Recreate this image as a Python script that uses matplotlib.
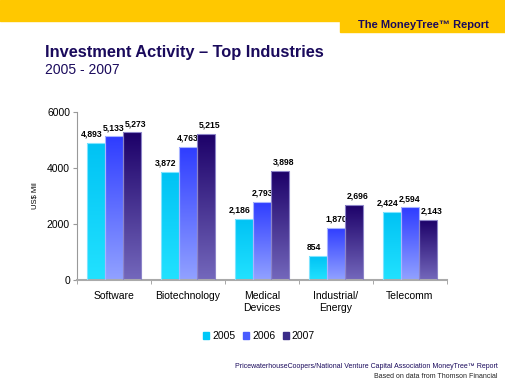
import numpy as np
import matplotlib.pyplot as plt
from matplotlib.colors import LinearSegmentedColormap
from matplotlib.patches import Rectangle

plt.rcParams["font.family"] = ["Liberation Sans", "DejaVu Sans"]

# Data
industries = ["Software", "Biotechnology", "Medical\nDevices", "Industrial/\nEnergy", "Telecomm"]
years = ["2005", "2006", "2007"]
inv_2005 = [4893, 3872, 2186, 854, 2424]
inv_2006 = [5133, 4763, 2793, 1870, 2594]
inv_2007 = [5273, 5215, 3898, 2696, 2143]
yticks = [0, 2000, 4000, 6000]

navy = "#1a0a5c"
yellow = "#ffc800"
# (top colour, bottom colour) for each year's gradient
grads = [("#00c2f4", "#22e2ff"), ("#2e3cff", "#92a2ff"), ("#1c0068", "#7468bc")]
edges = ["#7fe4ff", "#a8b4ff", "#8c84c8"]
legend_cols = ["#00c8f8", "#4a5cff", "#3a2c88"]
label_dx = [-3, 0, 2.5]  # points, spreads the value labels a bit like the original

fig = plt.figure(figsize=(5.06, 3.80), dpi=100)
fig.patch.set_facecolor("white")

# yellow banner at the top
fig.patches.append(Rectangle((0, 1 - 21 / 380), 1, 21 / 380, transform=fig.transFigure,
                             color=yellow, zorder=0))
fig.patches.append(Rectangle((340 / 506, 1 - 32 / 380), 166 / 506, 12 / 380,
                             transform=fig.transFigure, color=yellow, zorder=0))
fig.text(489 / 506, 1 - 25 / 380, "The MoneyTree™ Report", ha="right", va="center",
         fontsize=8, fontweight="bold", color=navy)

fig.text(45 / 506, 1 - 52 / 380, "Investment Activity – Top Industries", ha="left",
         va="center", fontsize=11.8, fontweight="bold", color=navy)
fig.text(45 / 506, 1 - 70 / 380, "2005 - 2007", ha="left", va="center",
         fontsize=10, color=navy)

ax = fig.add_axes([77 / 506, 1 - 280 / 380, 370 / 506, 168 / 380])

series = [inv_2005, inv_2006, inv_2007]
x = np.arange(len(industries))
w = 0.243
for i, vals in enumerate(series):
    cmap = LinearSegmentedColormap.from_list("g%d" % i, [grads[i][1], grads[i][0]])
    pos = x + (i - 1) * w
    bars = ax.bar(pos, vals, w, facecolor="none", edgecolor=edges[i], linewidth=0.8,
                  label=years[i], zorder=3)
    for b, v in zip(bars, vals):
        grad = np.linspace(0, 1, 256).reshape(-1, 1)
        im = ax.imshow(grad, cmap=cmap, origin="lower", aspect="auto",
                       extent=(b.get_x(), b.get_x() + w, 0, v), zorder=2)
        im.set_clip_path(b)
        ax.annotate(f"{v:,}", (b.get_x() + w / 2, v), xytext=(label_dx[i], 3),
                    textcoords="offset points", ha="center", va="bottom",
                    fontsize=6.2, fontweight="bold", color="black")

ax.set_xlim(-0.5, len(industries) - 0.5)
ax.set_ylim(0, 6000)
ax.set_yticks(yticks)
ax.set_yticklabels([str(t) for t in yticks], fontsize=7.5)
ax.set_xticks(x)
ax.set_xticklabels(industries, fontsize=7.5)
ax.set_xticks(np.arange(-0.5, len(industries)), minor=True)
ax.tick_params(axis="x", which="major", length=0, pad=8)
ax.tick_params(axis="x", which="minor", length=3, color="#999999")
ax.tick_params(axis="y", length=3, color="#999999", pad=2)
ax.set_ylabel("US$ Mil", fontsize=5.5, labelpad=6)
for s in ["top", "right"]:
    ax.spines[s].set_visible(False)
ax.spines["left"].set_color("#999999")
ax.spines["bottom"].set_color("#aaaaaa")
ax.spines["bottom"].set_linewidth(1.5)

handles = [Rectangle((0, 0), 1, 1, color=c) for c in legend_cols]
fig.legend(handles, years, loc="center", bbox_to_anchor=(259 / 506, 1 - 336 / 380),
           ncol=3, frameon=False, fontsize=7.5, handlelength=0.6, handleheight=0.6,
           handletextpad=0.3, columnspacing=0.7)

fig.text(498 / 506, 1 - 367 / 380,
         "PricewaterhouseCoopers/National Venture Capital Association MoneyTree™ Report",
         ha="right", va="center", fontsize=5, color=navy)
fig.text(498 / 506, 1 - 376 / 380, "Based on data from Thomson Financial",
         ha="right", va="center", fontsize=5, color="#222222")

fig.savefig("out.png", dpi=100)
